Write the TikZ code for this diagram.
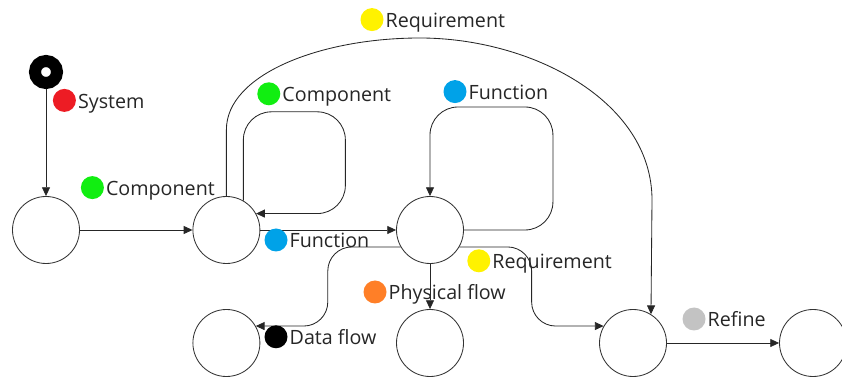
\documentclass[tikz,border=0pt]{standalone}
\usepackage{fontspec}
\setmainfont{Open Sans}
\usetikzlibrary{arrows.meta, calc, positioning}

\definecolor{dotred}{HTML}{ED1C24}
\definecolor{dotgreen}{HTML}{11EE11}
\definecolor{dotblue}{HTML}{00A2E8}
\definecolor{dotyellow}{HTML}{FFF200}
\definecolor{dotorange}{HTML}{FF7F27}
\definecolor{dotgrey}{HTML}{C3C3C3}

\tikzset{
	state/.style={circle, draw=black!80, line width=0.6pt, minimum size=1.675cm, inner sep=0},
	init/.style={circle, draw=black, fill=white, line width=0.3cm, minimum size=0.55cm, inner sep=0},
	flow/.style={draw=black!85, line width=0.6pt, -{Triangle[length=0.22cm,width=0.2cm]}},
	tag/.style={circle, fill=#1, minimum size=0.575cm, inner sep=0},
	tagtext/.style={anchor=base west, inner sep=0, text=black!85, font=\fontsize{14}{16}\selectfont},
}

\begin{document}
\begin{tikzpicture}
		\useasboundingbox (0,0) rectangle (21.05,9.5);

		\node[init] (start) at (1.15,7.7) {};
		\node[state] (sys) at (1.15,3.75) {};
		\node[state] (comp) at (5.66,3.75) {};
		\node[state] (func) at (10.75,3.75) {};
		\node[state] (data) at (5.66,0.925) {};
		\node[state] (phys) at (10.75,0.925) {};
		\node[state] (req) at (15.825,0.925) {};
		\node[state] (refine) at (20.325,0.925) {};

		\draw[flow] (start) -- (sys);
		\draw[flow] (sys) -- (comp);
		\draw[flow] (comp) -- (func);
		\draw[flow] (func) -- (phys);
		\draw[flow] (req) -- (refine);

		\draw[flow, rounded corners=0.7cm] (comp.60) |- ++(2.55,2.22) |- (comp.29);
		\draw[flow, rounded corners=0.7cm] (func.east) -| ++(2.225,3.075) -| (func.north);

		\draw[flow] (comp.north) -- ++(0,1.66) .. controls +(0,1.375) and +(-2.5,0) .. (10.5,8.55) .. controls +(2.75,0) and +(0,2.5) .. (16.3,4.5) -- (req.58);

		\draw[flow, rounded corners=0.6cm] (func.210) -| ([xshift=1.8cm]data.30) -- (data.30);
		\draw[flow, rounded corners=0.6cm] (func.-30) -| ([xshift=-1.8cm]req.150) -- (req.150);

		\node[tag=dotyellow] (reqdota) at (9.3,9.01) {};
		\node[tagtext] (reqlbla) at ($(reqdota.east)+(0.04,-0.2)$) {Requirement};

		\node[tag=dotred] (sysdot) at (1.61,6.99) {};
		\node[tagtext] (syslbl) at ($(sysdot.east)+(0.04,-0.2)$) {System};

		\node[tag=dotgreen] (compdota) at (6.72,7.155) {};
		\node[tagtext] (complbla) at ($(compdota.east)+(0.04,-0.2)$) {Component};

		\node[tag=dotblue] (funcdota) at (11.375,7.21) {};
		\node[tagtext] (funclbla) at ($(funcdota.east)+(0.04,-0.2)$) {Function};

		\node[tag=dotgreen] (compdotb) at (2.31,4.81) {};
		\node[tagtext] (complblb) at ($(compdotb.east)+(0.04,-0.2)$) {Component};

		\node[tag=dotblue] (funcdotb) at (6.9,3.5) {};
		\node[tagtext] (funclblb) at ($(funcdotb.east)+(0.04,-0.2)$) {Function};

		\node[tag=dotyellow] (reqdotb) at (11.97,2.98) {};
		\node[tagtext] (reqlblb) at ($(reqdotb.east)+(0.04,-0.2)$) {Requirement};

		\node[tag=dotorange] (physdot) at (9.375,2.2) {};
		\node[tagtext] (physlbl) at ($(physdot.east)+(0.04,-0.2)$) {Physical flow};

		\node[tag=black] (datadot) at (6.9,1.08) {};
		\node[tagtext] (datalbl) at ($(datadot.east)+(0.04,-0.2)$) {Data flow};

		\node[tag=dotgrey] (refdot) at (17.35,1.525) {};
		\node[tagtext] (reflbl) at ($(refdot.east)+(0.04,-0.2)$) {Refine};
	\end{tikzpicture}
\end{document}
